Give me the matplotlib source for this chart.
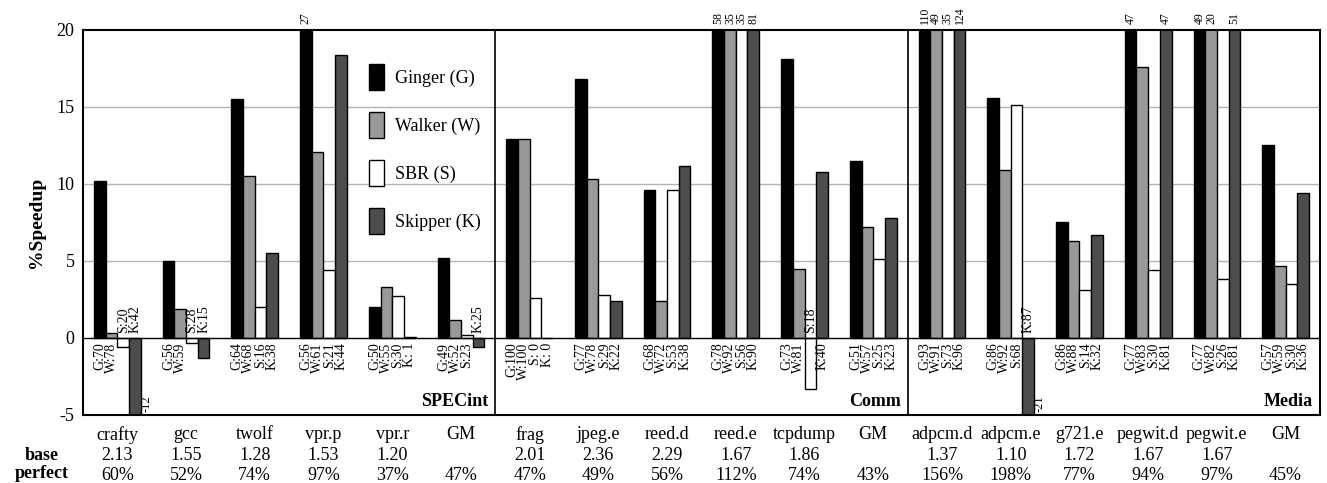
import numpy as np
import matplotlib
matplotlib.use("Agg")
import matplotlib.pyplot as plt
from matplotlib.patches import Patch

plt.rcParams['font.family'] = ['Liberation Serif', 'DejaVu Serif']
plt.rcParams['axes.unicode_minus'] = False

benchmarks = ['crafty', 'gcc', 'twolf', 'vpr.p', 'vpr.r', 'GM',
              'frag', 'jpeg.e', 'reed.d', 'reed.e', 'tcpdump', 'GM',
              'adpcm.d', 'adpcm.e', 'g721.e', 'pegwit.d', 'pegwit.e', 'GM']
base = ['2.13', '1.55', '1.28', '1.53', '1.20', '',
        '2.01', '2.36', '2.29', '1.67', '1.86', '',
        '1.37', '1.10', '1.72', '1.67', '1.67', '']
perfect = ['60%', '52%', '74%', '97%', '37%', '47%',
           '47%', '49%', '56%', '112%', '74%', '43%',
           '156%', '198%', '77%', '94%', '97%', '45%']
suites = ['SPECint', 'Comm', 'Media']

# speedup (%)
ginger  = [10.2, 5.0, 15.5, 27, 2.0, 5.2,  12.9, 16.8, 9.6, 58, 18.1, 11.5,  110, 15.6, 7.5, 47, 49, 12.5]
walker  = [0.3, 1.9, 10.5, 12.1, 3.3, 1.2,  12.9, 10.3, 2.4, 35, 4.5, 7.2,  49, 10.9, 6.3, 17.6, 20.3, 4.7]
sbr     = [-0.6, -0.3, 2.0, 4.4, 2.7, 0.2,  2.6, 2.8, 9.6, 35, -3.3, 5.1,  35, 15.1, 3.1, 4.4, 3.8, 3.5]
skipper = [-12, -1.3, 5.5, 18.4, 0.05, -0.6,  0.0, 2.4, 11.2, 81, 10.8, 7.8,  124, -21, 6.7, 47, 51, 9.4]

# coverage percentages printed under the bars
g_pct = [70, 56, 64, 56, 50, 49, 100, 77, 68, 78, 73, 51, 93, 86, 86, 77, 77, 57]
w_pct = [78, 59, 68, 61, 55, 52, 100, 78, 72, 92, 81, 57, 91, 92, 88, 83, 82, 59]
s_pct = [20, 28, 16, 21, 30, 23, 0, 29, 53, 56, 18, 25, 73, 68, 14, 30, 26, 30]
k_pct = [42, 15, 38, 44, 1, 25, 0, 22, 38, 90, 40, 23, 96, 87, 32, 81, 81, 36]

series = [('Ginger (G)', 'G', ginger, g_pct, '#000000'),
          ('Walker (W)', 'W', walker, w_pct, '#999999'),
          ('SBR (S)', 'S', sbr, s_pct, '#ffffff'),
          ('Skipper (K)', 'K', skipper, k_pct, '#4d4d4d')]

fig = plt.figure(figsize=(13.27, 4.83), dpi=100)
ax = fig.add_axes([0.0625, 0.1408, 0.9322, 0.7971])

x = np.arange(len(benchmarks))
w = 0.17
ymin, ymax = -5, 20

for y in [5, 10, 15]:
    ax.axhline(y, color='#b3b3b3', lw=1, zorder=0)
ax.axhline(0, color='black', lw=1, zorder=3)

for j, (name, tag, vals, pcts, col) in enumerate(series):
    xs = x + (j - 1.5) * w
    ax.bar(xs, vals, w, color=col, edgecolor='black', linewidth=1, zorder=2)
    for xi, v, p in zip(xs, vals, pcts):
        lab = f"{tag}:{p:2d}"
        if v < 0:
            ax.text(xi, 0.3, lab, rotation=90, ha='center', va='bottom', fontsize=10, zorder=4)
        else:
            ax.text(xi, -0.3, lab, rotation=90, ha='center', va='top', fontsize=10, zorder=4)
        if v > ymax:
            ax.text(xi, ymax + 0.4, f"{v:.0f}", rotation=90, ha='center', va='bottom',
                    fontsize=8.5, clip_on=False)
        if v < ymin:
            ax.text(xi + 0.17, ymin + 0.2, f"{v:.0f}", rotation=90, ha='center', va='bottom',
                    fontsize=9)

# suite separators and names
for b in [5.5, 11.5]:
    ax.axvline(b, color='black', lw=1.2, zorder=3)
for k, s in enumerate(suites):
    ax.text(6 * k + 5.4, -4.1, s, ha='right', va='center', fontsize=13, fontweight='bold')

ax.set_xlim(-0.5, len(benchmarks) - 0.5)
ax.set_ylim(ymin, ymax)
ax.set_yticks([-5, 0, 5, 10, 15, 20])
ax.tick_params(axis='y', labelsize=13, length=0, pad=6)
ax.set_xticks(x)
ax.set_xticklabels(benchmarks, fontsize=13)
ax.tick_params(axis='x', length=0, pad=8)
ax.set_ylabel('%Speedup', fontsize=14, fontweight='bold', labelpad=8)
for sp in ax.spines.values():
    sp.set_linewidth(1.5)

tr = ax.get_xaxis_transform()
for xi, b, p in zip(x, base, perfect):
    ax.text(xi, -0.106, b, transform=tr, ha='center', va='center', fontsize=13)
    ax.text(xi, -0.157, p, transform=tr, ha='center', va='center', fontsize=13)
fig.text(42 / 1327, 1 - 455 / 483, 'base', ha='center', va='center', fontsize=13, fontweight='bold')
fig.text(42 / 1327, 1 - 474 / 483, 'perfect', ha='center', va='center', fontsize=13, fontweight='bold')

handles = [Patch(facecolor=c, edgecolor='black', lw=1) for _, _, _, _, c in series]
ax.legend(handles, [s[0] for s in series], loc='upper left', bbox_to_anchor=(0.224, 0.935),
          frameon=False, fontsize=13, handlelength=0.85, handleheight=1.8,
          labelspacing=1.25, handletextpad=0.6, borderpad=0)

fig.savefig('out.png', dpi=100)
